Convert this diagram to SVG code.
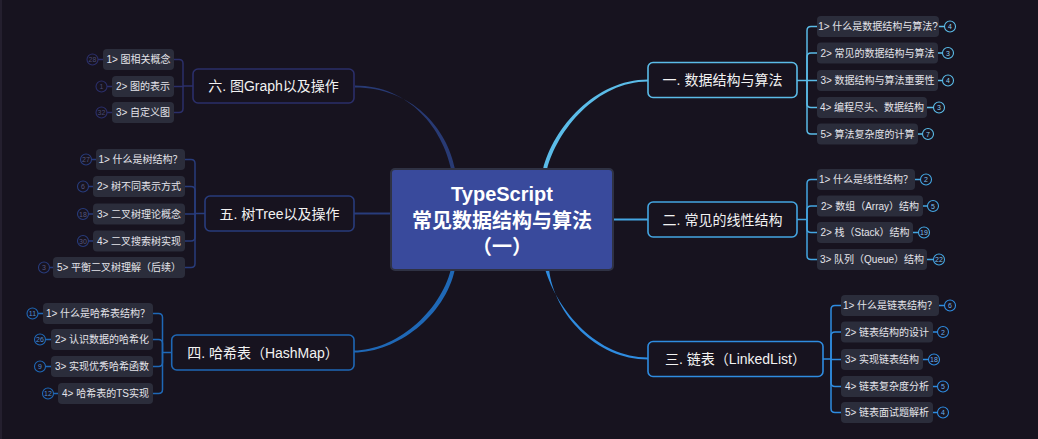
<svg xmlns="http://www.w3.org/2000/svg" width="1038" height="439" viewBox="0 0 1038 439">
<style>
text{font-family:"Liberation Sans","Noto Sans CJK SC",sans-serif;}
.main{fill:#17131f;stroke-width:1.6;}
.mt{fill:#f2f2f2;font-size:14px;text-anchor:middle;}
.cb{fill:#2b2d3b;}
.ct{fill:#e4e4ea;font-size:10px;text-anchor:middle;}
.br{fill:none;stroke-width:1.5;}
.bd{fill:#17131f;stroke-width:1.1;}
.bt{font-size:7px;text-anchor:middle;}
.c1{stroke:#5bbce8;} .c2{stroke:#44a6e2;} .c3{stroke:#2f8ce0;}
.c4{stroke:#1f68b6;} .c5{stroke:#283c7c;} .c6{stroke:#2b2f6a;}
.t1{fill:#8fd0f0;} .t2{fill:#7cc0ee;} .t3{fill:#6aaee8;} .t4{fill:#4f8fd4;} .t5{fill:#55577e;} .t6{fill:#4a4a72;}
</style>
<rect x="0" y="0" width="1038" height="439" fill="#17131f"/>
<rect x="0" y="0" width="2" height="439" fill="#241f2e"/>

<g id="connectors">
  <path d="M543,169.5 C553,128 595,79.5 648,79.5 L648,81.5 C597,81.5 557,130 547,169.5 Z" fill="#5bbce8"/>
  <path d="M613,218.5 H648 V220.5 H613 Z" fill="#44a6e2"/>
  <path d="M545,269 C558,312 598,357.5 648,357.5 L648,359.5 C596,359.5 554,314 549,269 Z" fill="#2f8ce0"/>
  <path d="M451,269 C440,313 395,350.5 354,350.5 L354,352.5 C397,352.5 445,316 455,269 Z" fill="#1f68b6"/>
  <path d="M354,212.5 H391 V214.5 H354 Z" fill="#283c7c"/>
  <path d="M355,85.5 C410,85.5 443,130 451,169 L455,169 C447,128 412,87.5 355,87.5 Z" fill="#283a74"/>

  <!-- node1 brackets -->
  <g class="br c1">
    <path d="M797,80.5 H807 V30.5 Q807,26.5 811,26.5 H817"/>
    <path d="M807,80.5 V57 Q807,53 811,53 H817"/>
    <path d="M807,80.5 H817"/>
    <path d="M807,80.5 V103.5 Q807,107.5 811,107.5 H817"/>
    <path d="M807,80.5 V130 Q807,134 811,134 H817"/>
    <path d="M939,26.5 H944.5 M938,53 H942.5 M938,80.5 H942.5 M927,107.5 H933.5 M918,134 H922.5"/>
  </g>
  <!-- node2 brackets -->
  <g class="br c2">
    <path d="M797,219.5 H807 V183.5 Q807,179.5 811,179.5 H817"/>
    <path d="M807,219.5 V210 Q807,206 811,206 H817"/>
    <path d="M807,219.5 V228.5 Q807,232.5 811,232.5 H817"/>
    <path d="M807,219.5 V255.5 Q807,259.5 811,259.5 H817"/>
    <path d="M915,179.5 H920.5 M923,206 H927.5 M913,232.5 H918.5 M927,259.5 H933.5"/>
  </g>
  <!-- node3 brackets -->
  <g class="br c3">
    <path d="M823,359 H831 V309.5 Q831,305.5 835,305.5 H841"/>
    <path d="M831,359 V336 Q831,332 835,332 H841"/>
    <path d="M831,359 V359.5 H841"/>
    <path d="M831,359 V382.5 Q831,386.5 835,386.5 H841"/>
    <path d="M831,359 V408.5 Q831,412.5 835,412.5 H841"/>
    <path d="M939,305.5 H944.5 M933,332 H937.5 M923,359.5 H928.5 M933,386.5 H937.5 M933,412.5 H937.5"/>
  </g>
  <!-- node6 brackets -->
  <g class="br c6">
    <path d="M193,86 H183 V63.5 Q183,59.5 179,59.5 H174"/>
    <path d="M183,86 V86.5 H174"/>
    <path d="M183,86 V108.5 Q183,112.5 179,112.5 H174"/>
    <path d="M98,59.5 H103 M107,86.5 H112 M107,112.5 H112"/>
  </g>
  <!-- node5 brackets -->
  <g class="br c5">
    <path d="M205,213.5 H195 V163.5 Q195,159.5 191,159.5 H185"/>
    <path d="M195,213.5 V190.5 Q195,186.5 191,186.5 H185"/>
    <path d="M195,213.5 V214 H185"/>
    <path d="M195,213.5 V237 Q195,241 191,241 H185"/>
    <path d="M195,213.5 V263.5 Q195,267.5 191,267.5 H185"/>
    <path d="M91.5,159.5 H96 M88.5,186.5 H93 M88.5,214 H93 M88.5,241 H93 M49.5,267.5 H53"/>
  </g>
  <!-- node4 brackets -->
  <g class="br c4">
    <path d="M171.7,352.5 H162.5 V317.5 Q162.5,313.5 158.5,313.5 H153"/>
    <path d="M162.5,352.5 V343.5 Q162.5,339.5 158.5,339.5 H153"/>
    <path d="M162.5,352.5 V362.5 Q162.5,366.5 158.5,366.5 H153"/>
    <path d="M162.5,352.5 V389.5 Q162.5,393.5 158.5,393.5 H153"/>
    <path d="M38,313.5 H43 M45.5,339.5 H51 M45.5,366.5 H51 M53.5,393.5 H58"/>
  </g>
</g>

<g id="center">
  <rect x="391" y="169" width="222" height="101" rx="4" fill="#394a9c" stroke="#2f3244" stroke-width="2"/>
  <text x="502" y="201" fill="#ffffff" font-size="20" font-weight="bold" text-anchor="middle">TypeScript</text>
  <text x="502" y="228" fill="#ffffff" font-size="20" font-weight="bold" text-anchor="middle">常见数据结构与算法</text>
  <text x="502" y="254" fill="#ffffff" font-size="20" font-weight="bold" text-anchor="middle">（一）</text>
</g>

<g id="node1">
  <rect class="main c1" x="648" y="62.5" width="149" height="35" rx="5"/>
  <text class="mt" x="722.5" y="85">一. 数据结构与算法</text>
</g>
<g id="node1-children">
  <rect class="cb" x="817" y="16" width="122" height="21" rx="4"/><text class="ct" x="878" y="30">1&gt; 什么是数据结构与算法?</text>
  <rect class="cb" x="817" y="42.5" width="121" height="21" rx="4"/><text class="ct" x="877.5" y="56.5">2&gt; 常见的数据结构与算法</text>
  <rect class="cb" x="817" y="70" width="121" height="21" rx="4"/><text class="ct" x="877.5" y="84">3&gt; 数据结构与算法重要性</text>
  <rect class="cb" x="817" y="97" width="110" height="21" rx="4"/><text class="ct" x="872" y="111">4&gt; 编程尽头、数据结构</text>
  <rect class="cb" x="817" y="123.5" width="101" height="21" rx="4"/><text class="ct" x="867.5" y="137.5">5&gt; 算法复杂度的计算</text>
  <g class="bd c1"><circle cx="950" cy="26.5" r="5.5"/><circle cx="948" cy="53" r="5.5"/><circle cx="948" cy="80.5" r="5.5"/><circle cx="939" cy="107.5" r="5.5"/><circle cx="928" cy="134" r="5.5"/></g>
  <g class="bt t1"><text x="950" y="29">4</text><text x="948" y="55.5">3</text><text x="948" y="83">4</text><text x="939" y="110">3</text><text x="928" y="136.5">7</text></g>
</g>

<g id="node2">
  <rect class="main c2" x="648" y="202" width="149" height="35" rx="5"/>
  <text class="mt" x="722.5" y="224.5">二. 常见的线性结构</text>
</g>
<g id="node2-children">
  <rect class="cb" x="817" y="169" width="98" height="21" rx="4"/><text class="ct" x="866" y="183">1&gt; 什么是线性结构？</text>
  <rect class="cb" x="817" y="195.5" width="106" height="21" rx="4"/><text class="ct" x="870" y="209.5">2&gt; 数组（Array）结构</text>
  <rect class="cb" x="817" y="222" width="96" height="21" rx="4"/><text class="ct" x="865" y="236">2&gt; 栈（Stack）结构</text>
  <rect class="cb" x="817" y="249" width="110" height="21" rx="4"/><text class="ct" x="872" y="263">3&gt; 队列（Queue）结构</text>
  <g class="bd c2"><circle cx="926" cy="179.5" r="5.5"/><circle cx="933" cy="206" r="5.5"/><circle cx="924" cy="232.5" r="5.5"/><circle cx="939" cy="259.5" r="5.5"/></g>
  <g class="bt t2"><text x="926" y="182">2</text><text x="933" y="208.5">5</text><text x="924" y="235">19</text><text x="939" y="262">22</text></g>
</g>

<g id="node3">
  <rect class="main c3" x="648" y="341.5" width="175" height="35" rx="5"/>
  <text class="mt" x="735.5" y="364">三. 链表（LinkedList）</text>
</g>
<g id="node3-children">
  <rect class="cb" x="841" y="295" width="98" height="21" rx="4"/><text class="ct" x="890" y="309">1&gt; 什么是链表结构？</text>
  <rect class="cb" x="841" y="321.5" width="92" height="21" rx="4"/><text class="ct" x="887" y="335.5">2&gt; 链表结构的设计</text>
  <rect class="cb" x="841" y="349" width="82" height="21" rx="4"/><text class="ct" x="882" y="363">3&gt; 实现链表结构</text>
  <rect class="cb" x="841" y="376" width="92" height="21" rx="4"/><text class="ct" x="887" y="390">4&gt; 链表复杂度分析</text>
  <rect class="cb" x="841" y="402" width="92" height="21" rx="4"/><text class="ct" x="887" y="416">5&gt; 链表面试题解析</text>
  <g class="bd c3"><circle cx="950" cy="305.5" r="5.5"/><circle cx="943" cy="332" r="5.5"/><circle cx="934" cy="359.5" r="5.5"/><circle cx="943" cy="386.5" r="5.5"/><circle cx="943" cy="412.5" r="5.5"/></g>
  <g class="bt t3"><text x="950" y="308">6</text><text x="943" y="334.5">2</text><text x="934" y="362">18</text><text x="943" y="389">5</text><text x="943" y="415">4</text></g>
</g>

<g id="node6">
  <rect class="main c6" x="193" y="69" width="161" height="34" rx="5"/>
  <text class="mt" x="273.5" y="91">六. 图Graph以及操作</text>
</g>
<g id="node6-children">
  <rect class="cb" x="103" y="49" width="71" height="21" rx="4"/><text class="ct" x="138.5" y="63">1&gt; 图相关概念</text>
  <rect class="cb" x="112" y="76" width="62" height="21" rx="4"/><text class="ct" x="143" y="90">2&gt; 图的表示</text>
  <rect class="cb" x="112" y="102" width="62" height="21" rx="4"/><text class="ct" x="143" y="116">3&gt; 自定义图</text>
  <g class="bd c6"><circle cx="92.5" cy="59.5" r="5.5"/><circle cx="101.5" cy="86.5" r="5.5"/><circle cx="101.5" cy="112.5" r="5.5"/></g>
  <g class="bt t6"><text x="92.5" y="62">28</text><text x="101.5" y="89">1</text><text x="101.5" y="115">32</text></g>
</g>

<g id="node5">
  <rect class="main c5" x="205" y="196" width="149" height="35" rx="5"/>
  <text class="mt" x="279.5" y="218.5">五. 树Tree以及操作</text>
</g>
<g id="node5-children">
  <rect class="cb" x="96" y="149" width="89" height="21" rx="4"/><text class="ct" x="140.5" y="163">1&gt; 什么是树结构？</text>
  <rect class="cb" x="93" y="176" width="92" height="21" rx="4"/><text class="ct" x="139" y="190">2&gt; 树不同表示方式</text>
  <rect class="cb" x="93" y="203.5" width="92" height="21" rx="4"/><text class="ct" x="139" y="217.5">3&gt; 二叉树理论概念</text>
  <rect class="cb" x="93" y="230.5" width="92" height="21" rx="4"/><text class="ct" x="139" y="244.5">4&gt; 二叉搜索树实现</text>
  <rect class="cb" x="53" y="257" width="132" height="21" rx="4"/><text class="ct" x="119" y="271">5&gt; 平衡二叉树理解（后续）</text>
  <g class="bd c5"><circle cx="86" cy="159.5" r="5.5"/><circle cx="83" cy="186.5" r="5.5"/><circle cx="83" cy="214" r="5.5"/><circle cx="83" cy="241" r="5.5"/><circle cx="44" cy="267.5" r="5.5"/></g>
  <g class="bt t5"><text x="86" y="162">27</text><text x="83" y="189">6</text><text x="83" y="216.5">18</text><text x="83" y="243.5">30</text><text x="44" y="270">3</text></g>
</g>

<g id="node4">
  <rect class="main c4" x="171.7" y="335" width="182.3" height="35" rx="5"/>
  <text class="mt" x="263" y="357.5">四. 哈希表（HashMap）</text>
</g>
<g id="node4-children">
  <rect class="cb" x="43" y="303" width="110" height="21" rx="4"/><text class="ct" x="98" y="317">1&gt; 什么是哈希表结构？</text>
  <rect class="cb" x="51" y="329" width="102" height="21" rx="4"/><text class="ct" x="102" y="343">2&gt; 认识数据的哈希化</text>
  <rect class="cb" x="51" y="356" width="102" height="21" rx="4"/><text class="ct" x="102" y="370">3&gt; 实现优秀哈希函数</text>
  <rect class="cb" x="58" y="383" width="95" height="21" rx="4"/><text class="ct" x="105.5" y="397">4&gt; 哈希表的TS实现</text>
  <g class="bd c4"><circle cx="32.5" cy="313.5" r="5.5"/><circle cx="40" cy="339.5" r="5.5"/><circle cx="40" cy="366.5" r="5.5"/><circle cx="48" cy="393.5" r="5.5"/></g>
  <g class="bt t4"><text x="32.5" y="316">11</text><text x="40" y="342">26</text><text x="40" y="369">9</text><text x="48" y="396">12</text></g>
</g>
</svg>
